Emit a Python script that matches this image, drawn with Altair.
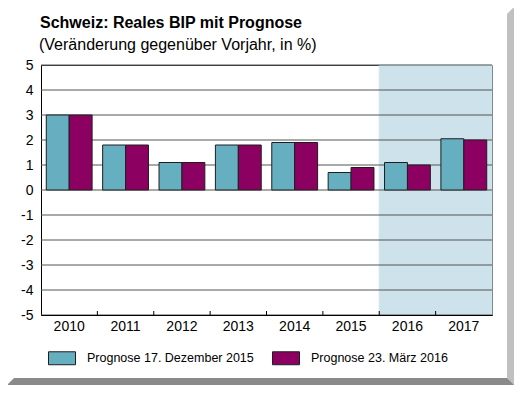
import altair as alt
import pandas as pd

years = ["2010", "2011", "2012", "2013", "2014", "2015", "2016", "2017"]
series = ["Prognose 17. Dezember 2015", "Prognose 23. März 2016"]
dez_2015 = [3.0, 1.8, 1.1, 1.8, 1.9, 0.7, 1.1, 2.05]
maerz_2016 = [3.0, 1.8, 1.1, 1.8, 1.9, 0.9, 1.0, 2.0]
forecast_years = ["2016", "2017"]
y_ticks = [-5, -4, -3, -2, -1, 0, 1, 2, 3, 4, 5]
title = "Schweiz: Reales BIP mit Prognose"
subtitle = "(Veränderung gegenüber Vorjahr, in %)"
colors = ["#66afc0", "#8c0062"]

W, H = 451, 250
FONT = "Liberation Sans"

bars_df = pd.DataFrame(
    [{"year": y, "series": series[0], "value": v} for y, v in zip(years, dez_2015)]
    + [{"year": y, "series": series[1], "value": v} for y, v in zip(years, maerz_2016)]
)

xscale = alt.Scale(domain=years, paddingInner=0, paddingOuter=0)
yscale = alt.Scale(domain=[-5, 5], nice=False, zero=False)

x_axis = alt.Axis(
    labelAngle=0, ticks=False, labelFontSize=14, labelFont=FONT,
    labelColor="black", labelPadding=4, domainColor="black",
    domainWidth=1, grid=False, title=None,
)
y_axis = alt.Axis(
    values=y_ticks, grid=False, ticks=False, labelFontSize=14,
    labelFont=FONT, labelColor="black", labelPadding=8,
    domainColor="black", domainWidth=1, labelExpr="'' + datum.value",
    title=None,
)

# 3D frame decoration (grey strips right and bottom)
frame_df = pd.DataFrame({"k": [0]})
right_strip = alt.Chart(frame_df).mark_point(
    shape="M466,-51L485,-70L485,335L466,313Z", size=4, filled=True,
    color="#c0c0c0", opacity=1, strokeWidth=0,
).encode(x=alt.value(0), y=alt.value(0))
bottom_strip = alt.Chart(frame_df).mark_point(
    shape="M-27,313L466,313L485,332L485,340L-45,340L-45,331Z", size=4, filled=True,
    color="#8a8a8a", opacity=1, strokeWidth=0,
).encode(x=alt.value(0), y=alt.value(0))

shade = alt.Chart(pd.DataFrame({"year": forecast_years})).mark_rect(
    color="#cde2ea", stroke="#cde2ea", strokeWidth=1
).encode(
    x=alt.X("year:N", scale=xscale, sort=years, axis=x_axis, title=None),
    y=alt.value(0),
    y2=alt.value(H),
)

grid = alt.Chart(pd.DataFrame({"v": y_ticks})).mark_rule(
    color="#555555", strokeWidth=1
).encode(
    y=alt.Y("v:Q", scale=yscale, axis=y_axis, title=None),
    x=alt.value(0),
    x2=alt.value(W),
)

bars = alt.Chart(bars_df).mark_bar(
    stroke="#1e1e1e", strokeWidth=1
).encode(
    x=alt.X("year:N", scale=xscale, sort=years, axis=x_axis, title=None),
    xOffset=alt.XOffset(
        "series:N", sort=series,
        scale=alt.Scale(domain=series, paddingInner=0, paddingOuter=0.23),
    ),
    y=alt.Y("value:Q", scale=yscale, axis=y_axis, title=None),
    color=alt.Color(
        "series:N", sort=series,
        scale=alt.Scale(domain=series, range=colors),
        legend=alt.Legend(
            title=None, orient="none", legendX=7, legendY=279,
            direction="horizontal", columns=2,
            symbolType="M-1,-0.48H1V0.48H-1Z", symbolSize=729,
            symbolStrokeColor="#1e1e1e", symbolStrokeWidth=1,
            labelFontSize=12.5, labelFont=FONT, labelColor="black",
            labelOffset=11, columnPadding=16, padding=0, labelLimit=400,
        ),
    ),
)

xticks = alt.Chart(pd.DataFrame({"year": years[1:]})).mark_rule(
    color="black", strokeWidth=1
).encode(
    x=alt.X("year:N", scale=xscale, sort=years, bandPosition=0, axis=x_axis, title=None),
    y=alt.value(H - 4),
    y2=alt.value(H),
)

title_mark = alt.Chart(pd.DataFrame({"t": [title]})).mark_text(
    align="left", baseline="alphabetic", fontSize=16, fontWeight="bold",
    font=FONT, color="black",
).encode(text="t:N", x=alt.value(-1), y=alt.value(-37))

subtitle_mark = alt.Chart(pd.DataFrame({"t": [subtitle]})).mark_text(
    align="left", baseline="alphabetic", fontSize=16, font=FONT, color="black",
).encode(text="t:N", x=alt.value(-2), y=alt.value(-15.5))

chart = alt.layer(
    right_strip, bottom_strip, shade, grid, bars, xticks, title_mark, subtitle_mark
).properties(
    width=W, height=H,
    autosize=alt.AutoSizeParams(type="none"),
    padding={"left": 33, "top": 57, "right": 22, "bottom": 70},
    background="white",
).configure_view(
    stroke="#333333", strokeWidth=1
)

chart.save("out.html", embed_options={"renderer": "svg", "actions": False})
